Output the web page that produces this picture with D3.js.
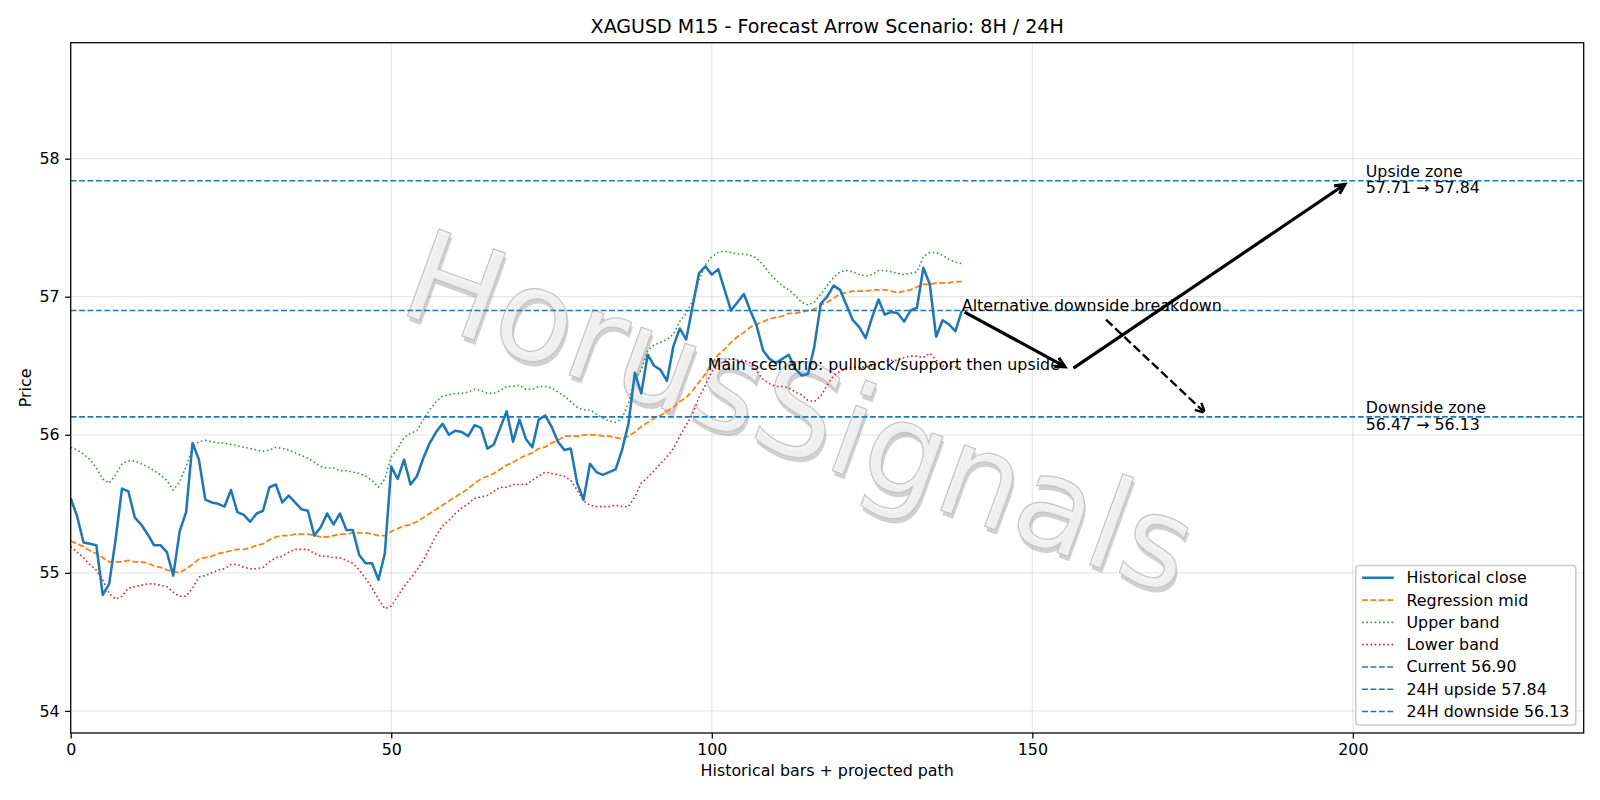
<!DOCTYPE html>
<html>
<head>
<meta charset="utf-8">
<script src="https://cdn.jsdelivr.net/npm/d3@7/dist/d3.min.js"></script>
<style>
  body { margin: 0; background: #fff; }
  svg text { font-family: "DejaVu Sans", sans-serif; fill: #000; }
</style>
</head>
<body>
<div id="chart"></div>
<script>
// XAGUSD M15 forecast arrows

const closeVals = [
  55.54, 55.41, 55.22, 55.21, 55.20, 54.84, 54.92, 55.24, 55.61, 55.59,
  55.40, 55.35, 55.28, 55.20, 55.20, 55.15, 54.98, 55.30, 55.44, 55.94,
  55.82, 55.53, 55.51, 55.50, 55.48, 55.60, 55.44, 55.42, 55.37, 55.43,
  55.45, 55.62, 55.64, 55.51, 55.56, 55.51, 55.46, 55.45, 55.27, 55.33,
  55.43, 55.35, 55.43, 55.31, 55.31, 55.13, 55.07, 55.07, 54.95, 55.14,
  55.77, 55.68, 55.82, 55.64, 55.70, 55.83, 55.94, 56.02, 56.08, 56.00,
  56.03, 56.02, 55.99, 56.07, 56.05, 55.90, 55.93, 56.05, 56.17, 55.95,
  56.11, 55.97, 55.91, 56.11, 56.14, 56.06, 55.95, 55.89, 55.90, 55.65,
  55.53, 55.79, 55.73, 55.71, 55.73, 55.75, 55.89, 56.08, 56.45, 56.30,
  56.58, 56.50, 56.47, 56.39, 56.64, 56.77, 56.69, 56.93, 57.17, 57.22,
  57.16, 57.20, 57.05, 56.90, 56.96, 57.02, 56.90, 56.79, 56.61, 56.55,
  56.52, 56.55, 56.58, 56.48, 56.43, 56.44, 56.64, 56.95, 57.00, 57.08,
  57.05, 56.94, 56.83, 56.78, 56.70, 56.85, 56.98, 56.87, 56.89, 56.88,
  56.82, 56.90, 56.92, 57.21, 57.09, 56.71, 56.83, 56.80, 56.75, 56.90
];

const midVals = [
  55.23, 55.21, 55.19, 55.16, 55.14, 55.11, 55.08, 55.08, 55.08, 55.09,
  55.08, 55.08, 55.07, 55.05, 55.04, 55.02, 55.01, 55.00, 55.03, 55.06,
  55.10, 55.11, 55.12, 55.14, 55.15, 55.16, 55.17, 55.17, 55.18, 55.20,
  55.21, 55.24, 55.26, 55.27, 55.27, 55.28, 55.28, 55.28, 55.27, 55.26,
  55.26, 55.27, 55.28, 55.28, 55.29, 55.29, 55.29, 55.28, 55.27, 55.27,
  55.30, 55.32, 55.34, 55.35, 55.37, 55.40, 55.43, 55.46, 55.49, 55.52,
  55.55, 55.58, 55.61, 55.65, 55.68, 55.70, 55.72, 55.75, 55.78, 55.80,
  55.83, 55.85, 55.87, 55.90, 55.91, 55.94, 55.96, 55.99, 55.99, 55.99,
  56.00, 56.00, 56.00, 55.99, 55.99, 55.98, 55.97, 55.99, 56.02, 56.06,
  56.09, 56.12, 56.14, 56.17, 56.20, 56.24, 56.27, 56.32, 56.38, 56.44,
  56.52, 56.58, 56.62, 56.67, 56.71, 56.74, 56.78, 56.80, 56.82, 56.84,
  56.85, 56.86, 56.88, 56.88, 56.89, 56.90, 56.91, 56.94, 56.96, 56.99,
  57.02, 57.03, 57.04, 57.04, 57.04, 57.05, 57.05, 57.05, 57.04, 57.03,
  57.04, 57.05, 57.07, 57.09, 57.09, 57.10, 57.10, 57.10, 57.11, 57.11
];

const upperVals = [
  55.91, 55.89, 55.86, 55.82, 55.76, 55.68, 55.65, 55.71, 55.79, 55.81,
  55.81, 55.79, 55.77, 55.74, 55.71, 55.67, 55.60, 55.66, 55.77, 55.91,
  55.95, 55.96, 55.95, 55.94, 55.94, 55.93, 55.92, 55.91, 55.90, 55.89,
  55.88, 55.89, 55.91, 55.90, 55.89, 55.87, 55.85, 55.83, 55.80, 55.77,
  55.76, 55.76, 55.74, 55.74, 55.73, 55.72, 55.70, 55.67, 55.62, 55.68,
  55.84, 55.90, 55.98, 56.01, 56.03, 56.11, 56.18, 56.24, 56.28, 56.29,
  56.30, 56.30, 56.31, 56.33, 56.32, 56.30, 56.30, 56.32, 56.35, 56.35,
  56.36, 56.33, 56.33, 56.35, 56.35, 56.34, 56.31, 56.28, 56.24, 56.20,
  56.18, 56.18, 56.15, 56.12, 56.10, 56.09, 56.12, 56.23, 56.40, 56.47,
  56.61, 56.65, 56.67, 56.69, 56.73, 56.82, 56.88, 56.97, 57.12, 57.23,
  57.29, 57.32, 57.33, 57.32, 57.31, 57.31, 57.30, 57.28, 57.23, 57.17,
  57.12, 57.08, 57.05, 57.01, 56.96, 56.94, 56.96, 57.02, 57.08, 57.14,
  57.18, 57.19, 57.18, 57.16, 57.15, 57.16, 57.19, 57.19, 57.18, 57.17,
  57.16, 57.17, 57.18, 57.29, 57.32, 57.32, 57.30, 57.27, 57.25, 57.24
];

const lowerVals = [
  55.19, 55.15, 55.11, 55.06, 55.02, 54.95, 54.85, 54.81, 54.83, 54.89,
  54.90, 54.91, 54.92, 54.92, 54.91, 54.90, 54.86, 54.83, 54.83, 54.89,
  54.97, 54.98, 55.00, 55.02, 55.03, 55.06, 55.06, 55.04, 55.03, 55.03,
  55.04, 55.08, 55.11, 55.12, 55.15, 55.17, 55.17, 55.17, 55.14, 55.12,
  55.12, 55.11, 55.11, 55.09, 55.07, 55.02, 54.96, 54.89, 54.81, 54.74,
  54.76, 54.83, 54.90, 54.96, 55.02, 55.09, 55.18, 55.27, 55.34, 55.38,
  55.43, 55.47, 55.50, 55.54, 55.55, 55.56, 55.59, 55.62, 55.62, 55.64,
  55.64, 55.64, 55.67, 55.70, 55.73, 55.72, 55.71, 55.70, 55.67, 55.60,
  55.52, 55.49, 55.48, 55.48, 55.48, 55.49, 55.48, 55.48, 55.55, 55.65,
  55.69, 55.74, 55.79, 55.84, 55.90, 55.99, 56.07, 56.15, 56.27, 56.36,
  56.46, 56.50, 56.54, 56.55, 56.54, 56.54, 56.52, 56.46, 56.40, 56.37,
  56.35, 56.35, 56.34, 56.31, 56.29, 56.25, 56.24, 56.28, 56.36, 56.43,
  56.46, 56.48, 56.49, 56.49, 56.49, 56.50, 56.52, 56.53, 56.54, 56.54,
  56.56, 56.57, 56.57, 56.56, 56.59, 56.54, 56.50, 56.50, 56.49, 56.48
];

const levelValues = [56.90, 57.84, 56.13];
const levelNames = ['Current 56.90', '24H upside 57.84', '24H downside 56.13'];

// projected path: current -> pullback -> upside target
const mainPathX = [139, 156, 199.6];
const mainPathY = [56.90, 56.47, 57.84];
const mainLabel = 'Main scenario: pullback/support then upside';
const mainLabelAt = [154.3, 56.47];

const altLabel = 'Alternative downside breakdown';
const altLabelAt = [139, 56.90];
const altTarget = [177.6, 56.13];

const zoneLines = [['Upside zone', '57.71 \u2192 57.84'], ['Downside zone', '56.47 \u2192 56.13']];
const zoneAt = [[202, 57.84], [202, 56.13]];

const xTicks = [0, 50, 100, 150, 200];
const yTicks = [54, 55, 56, 57, 58];
const xDomain = [0, 236];
const yDomain = [53.84, 58.84];

const chartTitle = 'XAGUSD M15 - Forecast Arrow Scenario: 8H / 24H';
const watermark = 'HorusSignals';

// ---------------------------------------------------------------

const PT = 1600 / 14 / 72;   // figure was 14in wide
const W = 1600, H = 800;
const plot = {left: 70.7, right: 1583.7, top: 42.7, bottom: 733};

const svg = d3.select('#chart').append('svg')
    .attr('width', W)
    .attr('height', H);

const x = d3.scaleLinear().domain(xDomain).range([plot.left, plot.right]);
const y = d3.scaleLinear().domain(yDomain).range([plot.bottom, plot.top]);

const fs = 10 * PT;

// grid
const grid = svg.append('g').attr('stroke', '#b0b0b0').attr('stroke-opacity', 0.3).attr('stroke-width', 0.8 * PT);
grid.selectAll('.gx').data(xTicks).enter().append('line')
    .attr('x1', d => x(d)).attr('x2', d => x(d))
    .attr('y1', plot.top).attr('y2', plot.bottom);
grid.selectAll('.gy').data(yTicks).enter().append('line')
    .attr('y1', d => y(d)).attr('y2', d => y(d))
    .attr('x1', plot.left).attr('x2', plot.right);

// watermark
const wm = svg.append('g')
    .attr('transform', 'translate(800, 412) rotate(20)')
    .style('font-size', (80 * PT) + 'px');
wm.append('text')
    .attr('x', 3).attr('y', 4)
    .attr('text-anchor', 'middle').attr('dominant-baseline', 'central')
    .style('fill', '#8a8a8a').style('fill-opacity', 0.4)
    .text(watermark);
wm.append('text')
    .attr('text-anchor', 'middle').attr('dominant-baseline', 'central')
    .style('fill', '#f2f2f2').style('fill-opacity', 0.9)
    .style('stroke', '#c4c4c4').style('stroke-width', 1.2)
    .text(watermark);

const clip = svg.append('clipPath').attr('id', 'plotclip').append('rect')
    .attr('x', plot.left).attr('y', plot.top)
    .attr('width', plot.right - plot.left).attr('height', plot.bottom - plot.top);

const g = svg.append('g').attr('clip-path', 'url(#plotclip)');

const line = d3.line().x((d, i) => x(i)).y(d => y(d));

const series = [
    {name: 'Historical close', vals: closeVals, color: '#1f77b4', width: 1.6 * PT, dash: null},
    {name: 'Regression mid', vals: midVals, color: '#ff7f0e', width: 1.1 * PT, dash: [3.7 * PT, 1.6 * PT]},
    {name: 'Upper band', vals: upperVals, color: '#2ca02c', width: 1.0 * PT, dash: [1 * PT, 1.65 * PT]},
    {name: 'Lower band', vals: lowerVals, color: '#d62728', width: 1.0 * PT, dash: [1 * PT, 1.65 * PT]}
];
const levelDash = [3.7 * PT, 1.6 * PT];

// draw bands first, close on top
[series[1], series[2], series[3], series[0]].forEach(s => {
    g.append('path')
        .datum(s.vals)
        .attr('fill', 'none')
        .attr('stroke', s.color)
        .attr('stroke-width', s.width)
        .attr('stroke-dasharray', s.dash ? s.dash.join(',') : null)
        .attr('stroke-linejoin', 'round')
        .attr('d', line);
});

g.selectAll('.level').data(levelValues).enter().append('line')
    .attr('class', 'level')
    .attr('x1', plot.left).attr('x2', plot.right)
    .attr('y1', d => y(d)).attr('y2', d => y(d))
    .attr('stroke', '#1f77b4')
    .attr('stroke-width', 1.0 * PT)
    .attr('stroke-dasharray', levelDash.join(','));

// matplotlib style '->' arrow in pixel space
function drawArrow(p0, p1, lw, dash) {
    const shrink = 2 * PT;
    const dx = p1[0] - p0[0], dy = p1[1] - p0[1];
    const len = Math.hypot(dx, dy);
    const ux = dx / len, uy = dy / len;
    const a = [p0[0] + ux * shrink, p0[1] + uy * shrink];
    const b = [p1[0] - ux * shrink, p1[1] - uy * shrink];
    const ms = 15 * PT;
    const hl = 0.4 * ms, hw = 0.2 * ms;
    const hd = Math.hypot(hl, hw);
    const cosT = hl / hd, sinT = hw / hd;
    const pad = 0.5 * lw / sinT;
    const tip = [b[0] - ux * pad, b[1] - uy * pad];
    const bx = -ux * hd, by = -uy * hd;
    const w1 = [tip[0] + cosT * bx + sinT * by, tip[1] - sinT * bx + cosT * by];
    const w2 = [tip[0] + cosT * bx - sinT * by, tip[1] + sinT * bx + cosT * by];
    const grp = svg.append('g')
        .attr('fill', 'none').attr('stroke', '#000')
        .attr('stroke-width', lw)
        .attr('stroke-dasharray', dash ? dash.join(',') : null);
    grp.append('path').attr('d', d3.line()([a, tip]));
    grp.append('path').attr('d', d3.line()([w1, tip, w2])).attr('stroke-linejoin', 'miter').attr('stroke-miterlimit', 10);
}

const mainPts = mainPathX.map((v, i) => [x(v), y(mainPathY[i])]);
drawArrow(mainPts[0], mainPts[1], 2 * PT, null);
drawArrow(mainPts[1], mainPts[2], 2 * PT, null);

svg.append('text')
    .attr('x', x(mainLabelAt[0])).attr('y', y(mainLabelAt[1]))
    .attr('text-anchor', 'end')
    .style('font-size', fs + 'px')
    .text(mainLabel);

const altText = svg.append('text')
    .attr('x', x(altLabelAt[0])).attr('y', y(altLabelAt[1]))
    .style('font-size', fs + 'px')
    .text(altLabel);

// arrow leaves the padded text box, aimed from its centre
{
    const tw = altText.node().getComputedTextLength();
    const bl = y(altLabelAt[1]);
    const pad = 2 * PT;
    const box = {x0: x(altLabelAt[0]) - pad, x1: x(altLabelAt[0]) + tw + pad,
                 y0: bl - 0.76 * fs - pad, y1: bl + 0.24 * fs + pad};
    const c = [(box.x0 + box.x1) / 2, (box.y0 + box.y1) / 2];
    const t = [x(altTarget[0]), y(altTarget[1])];
    const k = Math.min(
        (box.y1 - c[1]) / Math.max(1e-6, Math.abs(t[1] - c[1])),
        (box.x1 - c[0]) / Math.max(1e-6, Math.abs(t[0] - c[0])));
    const start = [c[0] + (t[0] - c[0]) * k, c[1] + (t[1] - c[1]) * k];
    drawArrow(start, t, 1.5 * PT, [3.7 * 1.5 * PT, 1.6 * 1.5 * PT]);
}

zoneLines.forEach((lines, i) => {
    const tx = svg.append('text')
        .attr('x', x(zoneAt[i][0]))
        .attr('y', y(zoneAt[i][1]))
        .style('font-size', fs + 'px');
    tx.append('tspan').attr('x', x(zoneAt[i][0])).attr('dy', -0.25 * fs).text(lines[0]);
    tx.append('tspan').attr('x', x(zoneAt[i][0])).attr('dy', 1.05 * fs).text(lines[1]);
});

// axes
const xAxis = svg.append('g')
    .attr('transform', `translate(0, ${plot.bottom})`)
    .call(d3.axisBottom(x).tickValues(xTicks).tickSize(3.5 * PT).tickPadding(3.5 * PT).tickFormat(d3.format('d')));
const yAxis = svg.append('g')
    .attr('transform', `translate(${plot.left}, 0)`)
    .call(d3.axisLeft(y).tickValues(yTicks).tickSize(3.5 * PT).tickPadding(3.5 * PT).tickFormat(d3.format('d')));
[xAxis, yAxis].forEach(ax => {
    ax.select('.domain').remove();
    ax.selectAll('line').attr('stroke', '#000').attr('stroke-width', 0.8 * PT);
    ax.selectAll('text').style('font-size', fs + 'px').style('font-family', '"DejaVu Sans", sans-serif');
});

svg.append('rect')
    .attr('x', plot.left).attr('y', plot.top)
    .attr('width', plot.right - plot.left).attr('height', plot.bottom - plot.top)
    .attr('fill', 'none').attr('stroke', '#000').attr('stroke-width', 0.8 * PT);

svg.append('text')
    .attr('x', (plot.left + plot.right) / 2).attr('y', plot.top - 6 * PT)
    .attr('text-anchor', 'middle')
    .style('font-size', (12 * PT) + 'px')
    .text(chartTitle);

svg.append('text')
    .attr('x', (plot.left + plot.right) / 2).attr('y', 776)
    .attr('text-anchor', 'middle')
    .style('font-size', fs + 'px')
    .text('Historical bars + projected path');

svg.append('text')
    .attr('transform', `translate(31, ${(plot.top + plot.bottom) / 2}) rotate(-90)`)
    .attr('text-anchor', 'middle')
    .style('font-size', fs + 'px')
    .text('Price');

// legend, lower right
const legendItems = series.map(s => ({label: s.name, color: s.color, width: s.width, dash: s.dash}))
    .concat(levelNames.map(n => ({label: n, color: '#1f77b4', width: 1.0 * PT, dash: levelDash})));

const lg = svg.append('g');
const lgFrame = lg.append('rect');
const rowH = 22.3;
const labels = lg.selectAll('.lgt').data(legendItems).enter().append('text')
    .style('font-size', fs + 'px')
    .attr('dominant-baseline', 'central')
    .text(d => d.label);
let maxW = 0;
labels.each(function () { maxW = Math.max(maxW, this.getComputedTextLength()); });
const bpad = 0.4 * fs, hlen = 2 * fs, htp = 0.8 * fs;
const lgW = bpad * 2 + hlen + htp + maxW;
const lgH = 12.3 + 6 * rowH + 13.5;
const lgX = plot.right - 0.5 * fs - lgW;
const lgY = plot.bottom - 0.5 * fs - lgH;
lgFrame.attr('x', lgX).attr('y', lgY).attr('width', lgW).attr('height', lgH)
    .attr('rx', 0.2 * fs).attr('ry', 0.2 * fs)
    .attr('fill', '#fff').attr('fill-opacity', 0.8)
    .attr('stroke', '#cccccc').attr('stroke-width', 1.0 * PT);
labels.attr('x', lgX + bpad + hlen + htp).attr('y', (d, i) => lgY + 12.3 + i * rowH);
lg.selectAll('.lgl').data(legendItems).enter().append('line')
    .attr('x1', lgX + bpad).attr('x2', lgX + bpad + hlen)
    .attr('y1', (d, i) => lgY + 12.3 + i * rowH).attr('y2', (d, i) => lgY + 12.3 + i * rowH)
    .attr('stroke', d => d.color)
    .attr('stroke-width', d => d.width)
    .attr('stroke-dasharray', d => d.dash ? d.dash.join(',') : null);
</script>
</body>
</html>
